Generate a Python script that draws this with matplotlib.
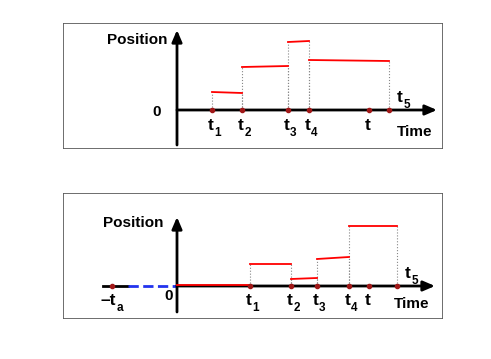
import numpy as np
import matplotlib.pyplot as plt

plt.rcParams['font.family'] = ['Liberation Sans', 'DejaVu Sans']
plt.rcParams['font.weight'] = 'bold'

# top panel: sample times and piecewise position (start, end of each step)
top_times = [3.5, 6.5, 11.1, 13.2, 19.2, 21.2]
top_labels = [('t', '1'), ('t', '2'), ('t', '3'), ('t', '4'), ('t', ''), None]
top_steps = [(3.5, 6.5), (6.5, 11.1), (11.1, 13.2), (13.2, 21.2)]
top_pos = [(1.8, 1.7), (4.3, 4.4), (6.8, 6.9), (5.0, 4.9)]

# bottom panel
bot_times = [-6.5, 7.3, 11.4, 14.0, 17.2, 19.2, 22.0]
bot_labels = [('\u2013t', 'a'), ('t', '1'), ('t', '2'), ('t', '3'), ('t', '4'), ('t', ''), None]
bot_steps = [(0.0, 7.3), (7.3, 11.4), (11.4, 14.0), (14.0, 17.2), (17.2, 22.0)]
bot_pos = [(0.1, 0.1), (2.2, 2.2), (0.7, 0.8), (2.7, 2.9), (6.0, 6.0)]

RED = '#ff0000'
DOT = '#a01818'
FS = 11
FS_T = 12.5
FS_SUB = 8.5


def tlabel(ax, x, y, main, sub):
    t = ax.text(x, y, main, fontsize=FS_T, ha='center', va='baseline')
    if sub:
        ax.annotate(sub, xy=(1, 0), xycoords=t, xytext=(0.2, 4),
                    textcoords='offset points', fontsize=FS_SUB,
                    ha='left', va='top')


def draw_panel(ax, times, labels, steps, pos, xstart, xtip, ybot, ytop,
               lab_y, t5x, t5y):
    arrow = dict(arrowstyle='-|>,head_length=0.7,head_width=0.3',
                 lw=2, color='black', shrinkA=0, shrinkB=0)
    ax.annotate('', xy=(xtip, 0), xytext=(xstart, 0), arrowprops=arrow)
    ax.annotate('', xy=(0, ytop), xytext=(0, ybot), arrowprops=arrow)
    # dotted drop lines
    for (a, b), (pa, pb) in zip(steps, pos):
        if pa > 0.3:
            ax.plot([a, a], [0, pa], ':', color='#888888', lw=0.8, zorder=2)
        if pb > 0.3:
            ax.plot([b, b], [0, pb], ':', color='#888888', lw=0.8, zorder=2)
    # red steps
    for (a, b), (pa, pb) in zip(steps, pos):
        ax.plot([a, b], [pa, pb], color=RED, lw=1.3, zorder=4)
    # sample points
    ax.plot(times, np.zeros(len(times)), 'o', color=DOT, ms=3, zorder=5)
    for x, lab in zip(times, labels):
        if lab is None:
            continue
        main, sub = lab
        dx = -0.35 if main != 't' else -0.1
        tlabel(ax, x + dx, lab_y, main, sub)
    tlabel(ax, t5x, t5y, 't', '5')


fig = plt.figure(figsize=(4.91, 3.59), dpi=100)
W, H = 491, 359

# top
ax1 = fig.add_axes([63 / W, 1 - 148 / H, 379 / W, 125 / H])
ax1.set_xlim(-11.4, 26.5)
ax1.set_ylim(-3.8, 8.7)
draw_panel(ax1, top_times, top_labels, top_steps, top_pos,
           0, 26.0, -3.5, 8.0, -2.0, 22.3, 0.8)
ax1.text(-4.0, 7.0, 'Position', fontsize=FS, ha='center', va='center')
ax1.text(-2.0, -0.25, '0', fontsize=FS, ha='center', va='center')
ax1.text(23.8, -2.2, 'Time', fontsize=FS, ha='center', va='center')

# bottom
ax2 = fig.add_axes([63 / W, 1 - 318 / H, 379 / W, 125 / H])
ax2.set_xlim(-11.4, 26.5)
ax2.set_ylim(-3.2, 9.3)
ax2.plot([-7.4, -4.9], [0, 0], color='black', lw=2, zorder=3)
ax2.plot([-4.9, 0], [0, 0], '--', color='#2233ee', lw=2, zorder=3)
draw_panel(ax2, bot_times, bot_labels, bot_steps, bot_pos,
           0, 25.8, -2.6, 6.9, -1.9, 23.1, 0.8)
ax2.text(-4.4, 6.3, 'Position', fontsize=FS, ha='center', va='center')
ax2.text(-0.8, -1.0, '0', fontsize=FS, ha='center', va='center')
ax2.text(23.5, -1.8, 'Time', fontsize=FS, ha='center', va='center')

for ax in (ax1, ax2):
    ax.set_xticks([])
    ax.set_yticks([])
    for s in ax.spines.values():
        s.set_color('#555555')
        s.set_linewidth(0.6)

fig.savefig('out.png', dpi=100)
